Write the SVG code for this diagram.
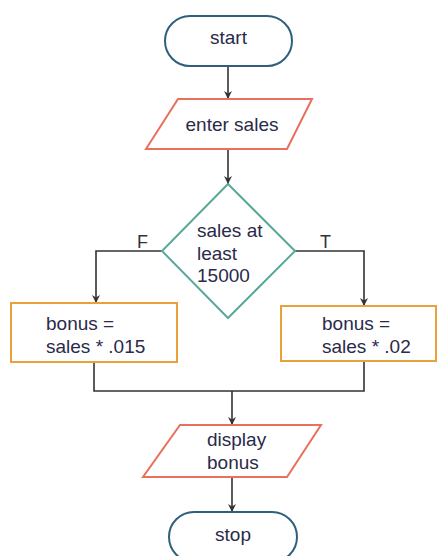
<svg xmlns="http://www.w3.org/2000/svg" width="438" height="556" viewBox="0 0 438 556">
<defs>
<marker id="arr" viewBox="0 0 10 10" refX="10" refY="5" markerWidth="8" markerHeight="8" markerUnits="userSpaceOnUse" orient="auto">
<path d="M0,0 L10,5 L0,10 L3,5 Z" fill="#333"/>
</marker>
<style>
.t{font-family:"Liberation Sans",Arial,sans-serif;font-size:19px;fill:#2a2a4a}
.term{fill:#fff;stroke:#2f5f7c;stroke-width:2}
.io{fill:#fff;stroke:#e8705c;stroke-width:2}
.dec{fill:#fff;stroke:#5aa89c;stroke-width:2}
.proc{fill:#fff;stroke:#e9a23a;stroke-width:2}
.c{fill:none;stroke:#333;stroke-width:1.6}
.lbl{font-family:"Liberation Sans",Arial,sans-serif;font-size:18px;fill:#333}
</style>
</defs>
<g id="connectors">
<line class="c" x1="228" y1="66" x2="228" y2="99" marker-end="url(#arr)"/>
<line class="c" x1="228" y1="149" x2="228" y2="184" marker-end="url(#arr)"/>
<polyline class="c" points="162,251 96,251 96,303" marker-end="url(#arr)"/>
<polyline class="c" points="295,251 364,251 364,306" marker-end="url(#arr)"/>
<polyline class="c" points="94,362 94,391 364,391 364,361"/>
<line class="c" x1="232" y1="391" x2="232" y2="425" marker-end="url(#arr)"/>
<line class="c" x1="232" y1="477" x2="232" y2="512" marker-end="url(#arr)"/>
<text class="lbl" x="137" y="248">F</text>
<text class="lbl" x="320" y="248">T</text>
</g>
<g id="start">
<rect class="term" x="165" y="16" width="127" height="50" rx="25"/>
<text class="t" x="228.5" y="44" text-anchor="middle">start</text>
</g>
<g id="enter">
<polygon class="io" points="178,99 312,99 287,149 146,149"/>
<text class="t" x="232" y="131" text-anchor="middle">enter sales</text>
</g>
<g id="decision">
<polygon class="dec" points="228,184 295,251 228,318 162,251"/>
<text class="t" x="197" y="237">sales at</text>
<text class="t" x="197" y="260">least</text>
<text class="t" x="197" y="282">15000</text>
</g>
<g id="bonusF">
<rect class="proc" x="11" y="303" width="166" height="59"/>
<text class="t" x="46" y="330">bonus =</text>
<text class="t" x="46" y="353">sales * .015</text>
</g>
<g id="bonusT">
<rect class="proc" x="281" y="306" width="155" height="55"/>
<text class="t" x="322" y="330">bonus =</text>
<text class="t" x="322" y="353">sales * .02</text>
</g>
<g id="display">
<polygon class="io" points="180,425 321,425 287,477 143,477"/>
<text class="t" x="207" y="446">display</text>
<text class="t" x="207" y="469">bonus</text>
</g>
<g id="stop">
<rect class="term" x="169" y="512" width="128" height="50" rx="25"/>
<text class="t" x="233" y="541" text-anchor="middle">stop</text>
</g>
</svg>
